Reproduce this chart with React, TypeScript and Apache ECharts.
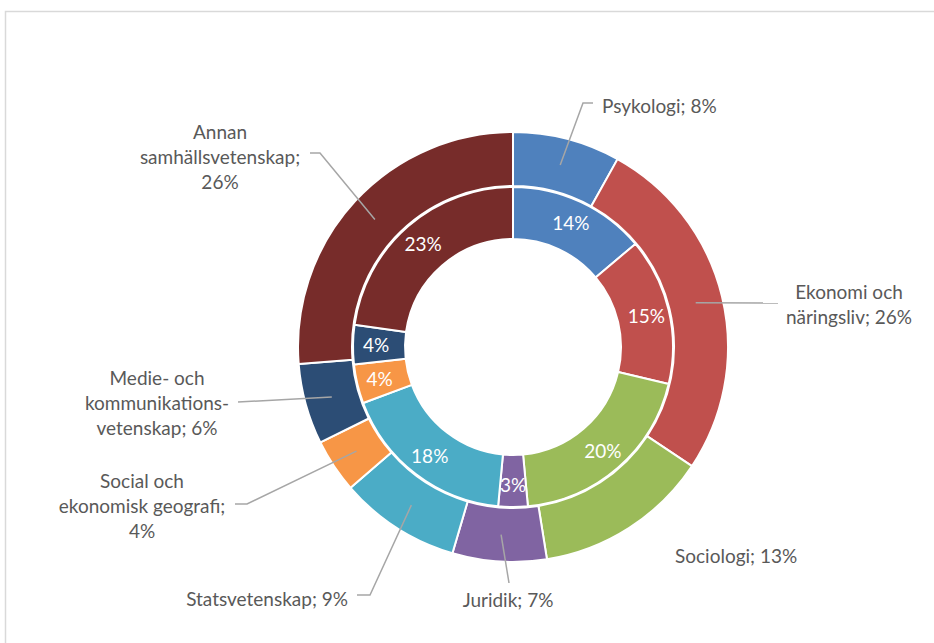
import React, { useEffect, useRef } from 'react';
import * as echarts from 'echarts';

// Categories (clockwise from 12 o'clock)
const categories = [
  'Psykologi',
  'Ekonomi och näringsliv',
  'Sociologi',
  'Juridik',
  'Statsvetenskap',
  'Social och ekonomisk geografi',
  'Medie- och kommunikationsvetenskap',
  'Annan samhällsvetenskap',
];

// Text of the outer labels (value + "%" is appended)
const outerLabelText = [
  'Psykologi; ',
  'Ekonomi och\nnäringsliv; ',
  'Sociologi; ',
  'Juridik; ',
  'Statsvetenskap; ',
  'Social och\nekonomisk geografi;\n',
  'Medie- och\nkommunikations-\nvetenskap; ',
  'Annan\nsamhällsvetenskap;\n',
];

// Outer ring values (%)
const outerValues = [8, 26, 13, 7, 9, 4, 6, 26];
// Inner ring values (%)
const innerValues = [14, 15, 20, 3, 18, 4, 4, 23];

const colors = ['#4F81BD', '#C0504D', '#9BBB59', '#8064A2', '#4BACC6', '#F79646', '#2C4D75', '#772C2A'];

// Label placement (layout only): anchor point, alignment and leader-line bends
type Placement = { x: number; y: number; align: string; line: number[][] | null };
const labelPlacement: Placement[] = [
  { x: 602, y: 105, align: 'left', line: [[583, 103], [593, 103]] },
  { x: 849, y: 304, align: 'center', line: [[778, 303]] },
  { x: 675, y: 555, align: 'left', line: null },
  { x: 508, y: 599, align: 'center', line: [[509, 583]] },
  { x: 348, y: 598, align: 'right', line: [[370, 595], [357, 595]] },
  { x: 142, y: 505, align: 'center', line: [[247, 504], [235, 504]] },
  { x: 157, y: 402, align: 'center', line: [[238, 402]] },
  { x: 220, y: 156, align: 'center', line: [[320, 153], [310, 153]] },
];

const FONT = 'Lato, "Open Sans", sans-serif';
const CENTER = [513, 347];

export default function App() {
  const ref = useRef<HTMLDivElement>(null);

  useEffect(() => {
    if (!ref.current) return;
    const chart = echarts.init(ref.current, null, { renderer: 'svg' });

    const outerData = outerValues.map((v, i) => ({
      value: v,
      name: categories[i],
      itemStyle: { color: colors[i] },
    }));
    const innerData = innerValues.map((v, i) => ({
      value: v,
      name: categories[i],
      itemStyle: { color: colors[i] },
    }));
    const guideData = outerValues.map((v, i) => ({
      value: v,
      name: categories[i],
      labelLine: { show: labelPlacement[i].line !== null },
    }));

    chart.setOption({
      animation: false,
      backgroundColor: '#ffffff',
      graphic: [
        {
          type: 'rect',
          shape: { x: 5.5, y: 11.5, width: 1000, height: 1000 },
          style: { fill: 'none', stroke: '#d9d9d9', lineWidth: 1.5 },
          silent: true,
        },
      ],
      series: [
        {
          type: 'pie',
          name: 'inner',
          center: CENTER,
          radius: [108, 160],
          startAngle: 90,
          clockwise: true,
          avoidLabelOverlap: false,
          itemStyle: { borderColor: '#ffffff', borderWidth: 2 },
          label: {
            show: true,
            position: 'inside',
            color: '#ffffff',
            fontFamily: FONT,
            fontSize: 19,
            formatter: (p: any) => `${p.value}%`,
          },
          labelLine: { show: false },
          emphasis: { disabled: true },
          data: innerData,
          z: 2,
        },
        {
          type: 'pie',
          name: 'outer',
          center: CENTER,
          radius: [161, 215],
          startAngle: 90,
          clockwise: true,
          avoidLabelOverlap: false,
          itemStyle: { borderColor: '#ffffff', borderWidth: 2 },
          label: { show: false },
          labelLine: { show: false },
          emphasis: { disabled: true },
          data: outerData,
          z: 2,
        },
        {
          // transparent guide ring at the outer ring's mid-radius: carries the outer labels
          type: 'pie',
          name: 'outerLabels',
          center: CENTER,
          radius: [150, 188],
          startAngle: 90,
          clockwise: true,
          silent: true,
          avoidLabelOverlap: false,
          itemStyle: { color: 'rgba(0,0,0,0)', borderWidth: 0 },
          label: {
            show: true,
            position: 'outside',
            color: '#595959',
            fontFamily: FONT,
            fontSize: 19,
            lineHeight: 25,
            formatter: (p: any) => `${outerLabelText[p.dataIndex]}${p.value}%`,
          },
          labelLine: {
            show: true,
            length: 20,
            length2: 10,
            lineStyle: { color: '#a6a6a6', width: 1.5 },
          },
          labelLayout: (params: any) => {
            const pl = labelPlacement[params.dataIndex];
            const start = params.labelLinePoints && params.labelLinePoints[0];
            const res: any = { x: pl.x, y: pl.y, align: pl.align, verticalAlign: 'middle' };
            if (start && pl.line) res.labelLinePoints = [start, ...pl.line];
            return res;
          },
          emphasis: { disabled: true },
          data: guideData,
          z: 5,
        },
      ],
    });

    return () => chart.dispose();
  }, []);

  return (
    <div
      ref={ref}
      style={{ position: 'fixed', left: 0, top: 0, width: 934, height: 643 }}
    />
  );
}
